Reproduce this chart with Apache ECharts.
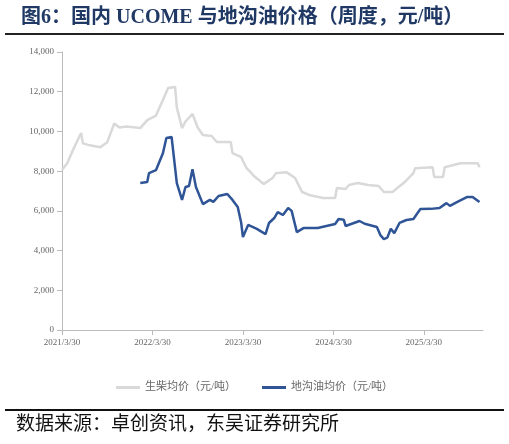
<!DOCTYPE html>
<html>
<head>
<meta charset="utf-8">
<script src="https://cdn.jsdelivr.net/npm/echarts@6/dist/echarts.min.js"></script>
<style>html,body{margin:0;padding:0;background:#fff}#c{width:509px;height:444px}</style>
</head>
<body>
<div id="c"></div>
<script>
// weeks counted from 2021/3/30
const tickLabels = ['2021/3/30', '2022/3/30', '2023/3/30', '2024/3/30', '2025/3/30']

const biodieselWeeks = [0,3,6,9,11,12,16,22,26,30,33,37,45,49,54,58,61,65,66,69,71,75,78,81,86,89,97,98,103,106,111,116,121,123,129,134,138,142,150,157,158,163,165,170,176,182,185,190,197,202,203,213,214,219,220,229,239,240]
const biodieselPrice = [8060,8400,9000,9570,9920,9400,9300,9200,9450,10400,10200,10250,10170,10570,10800,11580,12190,12240,11200,10170,10500,10880,10200,9820,9770,9470,9470,8910,8700,8160,7700,7350,7650,7900,7950,7650,6950,6800,6650,6650,7150,7100,7300,7400,7300,7250,6950,6950,7450,7900,8150,8200,7700,7700,8200,8400,8400,8200]

const gutterWeeks = [45,49,50,54,58,60,63,66,69,71,73,75,77,81,85,87,90,95,98,101,103,104,107,112,117,119,122,124,127,130,132,135,139,147,157,159,162,163,171,174,181,183,185,187,189,191,194,198,202,206,212,217,221,223,227,233,236,240]
const gutterPrice = [7400,7450,7900,8050,8900,9670,9720,7400,6550,7200,7250,8100,7200,6340,6550,6450,6750,6850,6550,6200,5400,4680,5290,5090,4830,5390,5640,5940,5790,6140,6000,4930,5140,5140,5340,5590,5550,5240,5490,5350,5190,4780,4580,4650,5100,4880,5390,5540,5590,6090,6100,6140,6390,6250,6440,6700,6700,6440]

const zip = (xs, ys) => xs.map((x, i) => [x, ys[i]])
const serif = '"Liberation Serif", "Noto Sans CJK SC", serif'

const chart = echarts.init(document.getElementById('c'))
chart.setOption({
  animation: false,
  textStyle: { fontFamily: serif },
  title: {
    text: '图6：国内 UCOME 与地沟油价格（周度，元/吨）',
    left: 16, top: 3,
    textStyle: { fontSize: 20, fontWeight: 'bold', color: '#1f3864', fontFamily: serif }
  },
  graphic: [
    { type: 'rect', shape: { x: 5, y: 33, width: 499, height: 2 }, style: { fill: '#222' } },
    { type: 'rect', shape: { x: 5, y: 409, width: 499, height: 2 }, style: { fill: '#111' } },
    { type: 'text', left: 16, top: 416, style: { text: '数据来源：卓创资讯，东吴证券研究所', fontSize: 19, fill: '#111', fontFamily: serif } }
  ],
  legend: {
    bottom: 46, itemWidth: 24, itemHeight: 3, itemGap: 26, icon: 'rect',
    textStyle: { fontSize: 11, color: '#666' },
    data: ['生柴均价（元/吨）', '地沟油均价（元/吨）']
  },
  grid: { left: 62, right: 26, top: 52, bottom: 114 },
  xAxis: {
    type: 'value', min: 0, max: 242, interval: 52,
    axisLine: { lineStyle: { color: '#bbb' } },
    axisTick: { show: true, lineStyle: { color: '#bbb' } },
    splitLine: { show: false },
    axisLabel: {
      fontSize: 9, color: '#666', showMaxLabel: false,
      formatter: v => tickLabels[v / 52] || ''
    }
  },
  yAxis: {
    type: 'value', min: 0, max: 14000, interval: 2000,
    axisLine: { show: true, lineStyle: { color: '#bbb' } },
    axisTick: { show: true, lineStyle: { color: '#bbb' } },
    splitLine: { show: false },
    axisLabel: { fontSize: 9, color: '#666', formatter: v => v.toLocaleString('en-US') }
  },
  series: [
    {
      name: '生柴均价（元/吨）', type: 'line', showSymbol: false,
      data: zip(biodieselWeeks, biodieselPrice),
      lineStyle: { color: '#d9d9d9', width: 2.5 }, itemStyle: { color: '#d9d9d9' }
    },
    {
      name: '地沟油均价（元/吨）', type: 'line', showSymbol: false,
      data: zip(gutterWeeks, gutterPrice),
      lineStyle: { color: '#2f5597', width: 2.5 }, itemStyle: { color: '#2f5597' }
    }
  ]
})
</script>
</body>
</html>
